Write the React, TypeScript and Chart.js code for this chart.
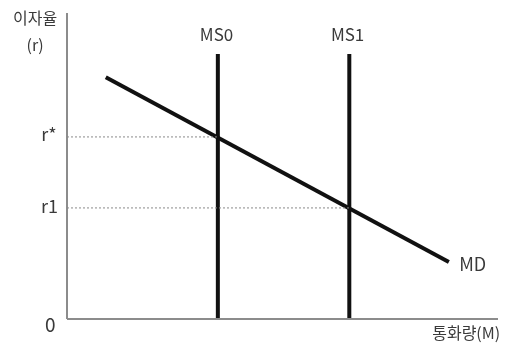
import React, { useEffect, useRef } from "react";
import { Chart, registerables } from "chart.js";

Chart.register(...registerables);

// Supply / demand values (money quantity M on x, interest rate r on y)
const ms0X = 3.5;
const ms1X = 6.55;
const msTop = 8.66;
const rStar = 5.95;
const r1 = 3.63;
const mdX = [0.9, 8.86];
const mdY = [7.9, 1.86];
const axisMax = [10, 10];

const labelTexts = ["이자율", "(r)", "r*", "r1", "0", "MS0", "MS1", "MD", "통화량(M)"];
const labelX = [-0.74, -0.74, -0.24, -0.21, -0.39, ms0X - 0.03, ms1X - 0.04, 9.1, 10.05];
const labelY = [9.84, 8.95, 6.05, 3.69, -0.2, 9.28, 9.28, 1.8, -0.46];
const labelAlign: CanvasTextAlign[] = ["center", "center", "right", "right", "center", "center", "center", "left", "right"];
const labelSize = [16, 16, 18, 18, 19, 17, 17, 18, 16];

const FONT = '"Noto Sans CJK KR", "Noto Sans", sans-serif';

const textPlugin = {
  id: "textLabels",
  afterDatasetsDraw(chart: any) {
    const { ctx, scales } = chart;
    ctx.save();
    ctx.fillStyle = "#3a3a3a";
    ctx.textBaseline = "middle";
    labelTexts.forEach((t, i) => {
      ctx.font = `${labelSize[i]}px ${FONT}`;
      ctx.textAlign = labelAlign[i];
      ctx.fillText(t, scales.x.getPixelForValue(labelX[i]), scales.y.getPixelForValue(labelY[i]));
    });
    ctx.restore();
  },
};

export default function App() {
  const ref = useRef<HTMLCanvasElement>(null);
  useEffect(() => {
    document.body.style.margin = "0";
    const line = (data: { x: number; y: number }[], color: string, width: number, dash: number[] = []) => ({
      type: "line" as const,
      data,
      borderColor: color,
      borderWidth: width,
      borderDash: dash,
      pointRadius: 0,
      fill: false,
      tension: 0,
      clip: false as any,
    });
    const chart = new Chart(ref.current!, {
      type: "line",
      data: {
        datasets: [
          line([{ x: 0, y: rStar }, { x: ms0X, y: rStar }], "#8a8a8a", 1, [2, 2]),
          line([{ x: 0, y: r1 }, { x: ms1X, y: r1 }], "#8a8a8a", 1, [2, 2]),
          line([{ x: 0, y: 0 }, { x: 0, y: axisMax[1] }], "#8c8c8c", 2),
          line([{ x: 0, y: 0 }, { x: axisMax[0], y: 0 }], "#8c8c8c", 2),
          line([{ x: ms0X, y: 0 }, { x: ms0X, y: msTop }], "#111111", 4),
          line([{ x: ms1X, y: 0 }, { x: ms1X, y: msTop }], "#111111", 4),
          line([{ x: mdX[0], y: mdY[0] }, { x: mdX[1], y: mdY[1] }], "#111111", 4),
        ],
      },
      options: {
        responsive: false,
        animation: false,
        layout: { padding: { left: 67, right: 10, top: 13, bottom: 26 } },
        plugins: { legend: { display: false }, tooltip: { enabled: false } },
        scales: {
          x: { type: "linear", display: false, min: 0, max: axisMax[0] },
          y: { type: "linear", display: false, min: 0, max: axisMax[1] },
        },
      },
      plugins: [textPlugin],
    });
    return () => chart.destroy();
  }, []);
  return (
    <div style={{ width: 508, height: 345, background: "#fff" }}>
      <canvas ref={ref} width={508} height={345} />
    </div>
  );
}
